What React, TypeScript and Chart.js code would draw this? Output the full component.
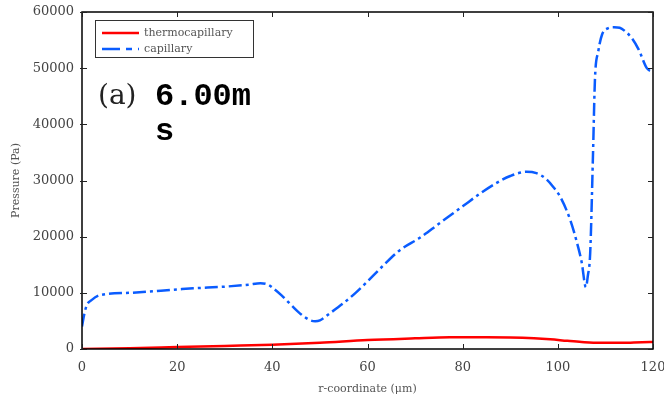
import React, { useEffect, useRef } from "react";
import { Chart, registerables } from "chart.js";

Chart.register(...registerables);

const capX = [0, 0.5, 1, 2, 3.8, 10, 20, 23.4, 30, 35, 37.5, 39, 40.2, 42, 44, 46, 48, 49, 50, 52, 55, 57.5, 59.6, 63, 66.8, 71, 75, 80, 83.7, 87, 90, 93.4, 95.5, 97.5, 99, 100.5, 102.6, 104, 105, 105.9, 106.3, 106.8, 107.4, 107.8, 108.5, 109.3, 110.5, 111.8, 113, 114.5, 115.5, 117, 118.7, 120];
const capY = [4000, 6300, 7800, 8700, 9600, 10000, 10600, 10800, 11100, 11450, 11700, 11500, 10800, 9500, 7800, 6200, 5100, 4950, 5100, 6300, 8200, 10000, 11700, 14600, 17600, 19800, 22300, 25400, 27700, 29500, 30800, 31550, 31300, 30300, 28900, 27100, 23000, 19000, 15500, 11000, 13000, 17100, 35000, 48000, 53000, 56000, 57100, 57300, 57200, 56300, 55400, 53300, 50000, 49300];

const thermoX = [0, 10, 20, 30, 40, 50, 60, 70, 77.3, 85, 90, 95, 98.4, 102, 105, 108.8, 113, 116, 119.4, 120];
const thermoY = [0, 150, 350, 550, 750, 1100, 1600, 1900, 2080, 2100, 2050, 1900, 1720, 1450, 1250, 1100, 1100, 1150, 1230, 1250];

const xTicks = [0, 20, 40, 60, 80, 100, 120];
const yTicks = [0, 10000, 20000, 30000, 40000, 50000, 60000];

const seriesNames = ["thermocapillary", "capillary"];
const xTitle = "r-coordinate (\u03bcm)";
const yTitle = "Pressure (Pa)";
const panelLabel = "(a)";
const timeLine1 = "6.00m";
const timeLine2 = "s";

const RED = "#ff0000";
const BLUE = "#0a5cff";
const BLUE_DASH = [13, 4, 3, 4];

const framePlugin = {
  id: "frame",
  afterDatasetsDraw(chart: any) {
    const { ctx, chartArea: a, scales } = chart;
    const xs = scales.x;
    const ys = scales.y;
    ctx.save();
    ctx.strokeStyle = "#000";
    ctx.lineWidth = 1.5;
    ctx.strokeRect(a.left, a.top, a.right - a.left, a.bottom - a.top);
    ctx.lineWidth = 1;
    ctx.strokeStyle = "#222";
    const tl = 5;
    ctx.beginPath();
    for (const v of xTicks) {
      const px = Math.round(xs.getPixelForValue(v)) + 0.5;
      ctx.moveTo(px, a.bottom);
      ctx.lineTo(px, a.bottom - tl);
      ctx.moveTo(px, a.top);
      ctx.lineTo(px, a.top + tl);
    }
    for (const v of yTicks) {
      const py = Math.round(ys.getPixelForValue(v)) + 0.5;
      ctx.moveTo(a.left - 2, py);
      ctx.lineTo(a.left + tl, py);
      ctx.moveTo(a.right, py);
      ctx.lineTo(a.right - tl, py);
    }
    ctx.stroke();

    const bx = 95, by = 20, bw = 158, bh = 37;
    ctx.fillStyle = "#fff";
    ctx.fillRect(bx, by, bw, bh);
    ctx.strokeStyle = "#333";
    ctx.lineWidth = 1;
    ctx.strokeRect(bx + 0.5, by + 0.5, bw, bh);
    const rows = [33, 49];
    ctx.lineWidth = 2.5;
    ctx.strokeStyle = RED;
    ctx.setLineDash([]);
    ctx.beginPath();
    ctx.moveTo(102, rows[0]);
    ctx.lineTo(139, rows[0]);
    ctx.stroke();
    ctx.strokeStyle = BLUE;
    ctx.setLineDash([18, 6, 6, 6]);
    ctx.beginPath();
    ctx.moveTo(102, rows[1]);
    ctx.lineTo(139, rows[1]);
    ctx.stroke();
    ctx.setLineDash([]);
    ctx.fillStyle = "#555";
    ctx.font = "11px 'DejaVu Serif'";
    ctx.textBaseline = "middle";
    ctx.textAlign = "left";
    ctx.fillText(seriesNames[0], 144, rows[0]);
    ctx.fillText(seriesNames[1], 144, rows[1]);

    ctx.textBaseline = "alphabetic";
    ctx.fillStyle = "#222";
    ctx.font = "28px 'DejaVu Serif'";
    ctx.fillText(panelLabel, 98, 104);
    ctx.fillStyle = "#000";
    ctx.font = "bold 32px 'Liberation Mono'";
    ctx.fillText(timeLine1, 155, 105);
    ctx.fillText(timeLine2, 155, 140);
    ctx.restore();
  },
};

export default function App() {
  const ref = useRef<HTMLCanvasElement | null>(null);
  useEffect(() => {
    document.body.style.margin = "0";
    const canvas = ref.current!;
    const chart = new Chart(canvas, {
      type: "line",
      data: {
        datasets: [
          {
            label: seriesNames[1],
            data: capX.map((x, i) => ({ x, y: capY[i] })),
            borderColor: BLUE,
            borderWidth: 2.5,
            borderDash: BLUE_DASH,
            pointRadius: 0,
            cubicInterpolationMode: "monotone",
            fill: false,
          },
          {
            label: seriesNames[0],
            data: thermoX.map((x, i) => ({ x, y: thermoY[i] })),
            borderColor: RED,
            borderWidth: 2.5,
            pointRadius: 0,
            cubicInterpolationMode: "monotone",
            fill: false,
          },
        ],
      },
      options: {
        responsive: false,
        animation: false,
        layout: { padding: { top: 12, right: 11, left: 0, bottom: 0 } },
        plugins: { legend: { display: false }, tooltip: { enabled: false } },
        scales: {
          x: {
            type: "linear",
            min: 0,
            max: 120,
            afterBuildTicks: (s: any) => {
              s.ticks = xTicks.map((v) => ({ value: v }));
            },
            afterFit: (s: any) => {
              s.height = 51;
              s.paddingLeft = 0;
              s.paddingRight = 0;
            },
            grid: { display: false, drawTicks: false },
            border: { display: false },
            ticks: {
              font: { family: "'DejaVu Serif'", size: 13 },
              color: "#444",
              padding: 11,
              maxRotation: 0,
              callback: (v: any) => String(v),
            },
            title: {
              display: true,
              text: xTitle,
              font: { family: "'DejaVu Serif'", size: 11 },
              color: "#555",
              padding: { top: 0, bottom: 4 },
            },
          },
          y: {
            type: "linear",
            min: 0,
            max: 60000,
            afterBuildTicks: (s: any) => {
              s.ticks = yTicks.map((v) => ({ value: v }));
            },
            afterFit: (s: any) => {
              s.width = 82;
              s.paddingTop = 0;
              s.paddingBottom = 0;
            },
            grid: { display: false, drawTicks: false },
            border: { display: false },
            ticks: {
              font: { family: "'DejaVu Serif'", size: 13 },
              color: "#444",
              padding: 8,
              callback: (v: any) => String(v),
            },
            title: {
              display: true,
              text: yTitle,
              font: { family: "'DejaVu Serif'", size: 11 },
              color: "#555",
              padding: { top: 10, bottom: 0 },
            },
          },
        },
      },
      plugins: [framePlugin],
    } as any);
    return () => chart.destroy();
  }, []);
  return (
    <div style={{ position: "fixed", left: 0, top: 0, width: 664, height: 400, background: "#fff" }}>
      <canvas ref={ref} width={664} height={400} />
    </div>
  );
}
